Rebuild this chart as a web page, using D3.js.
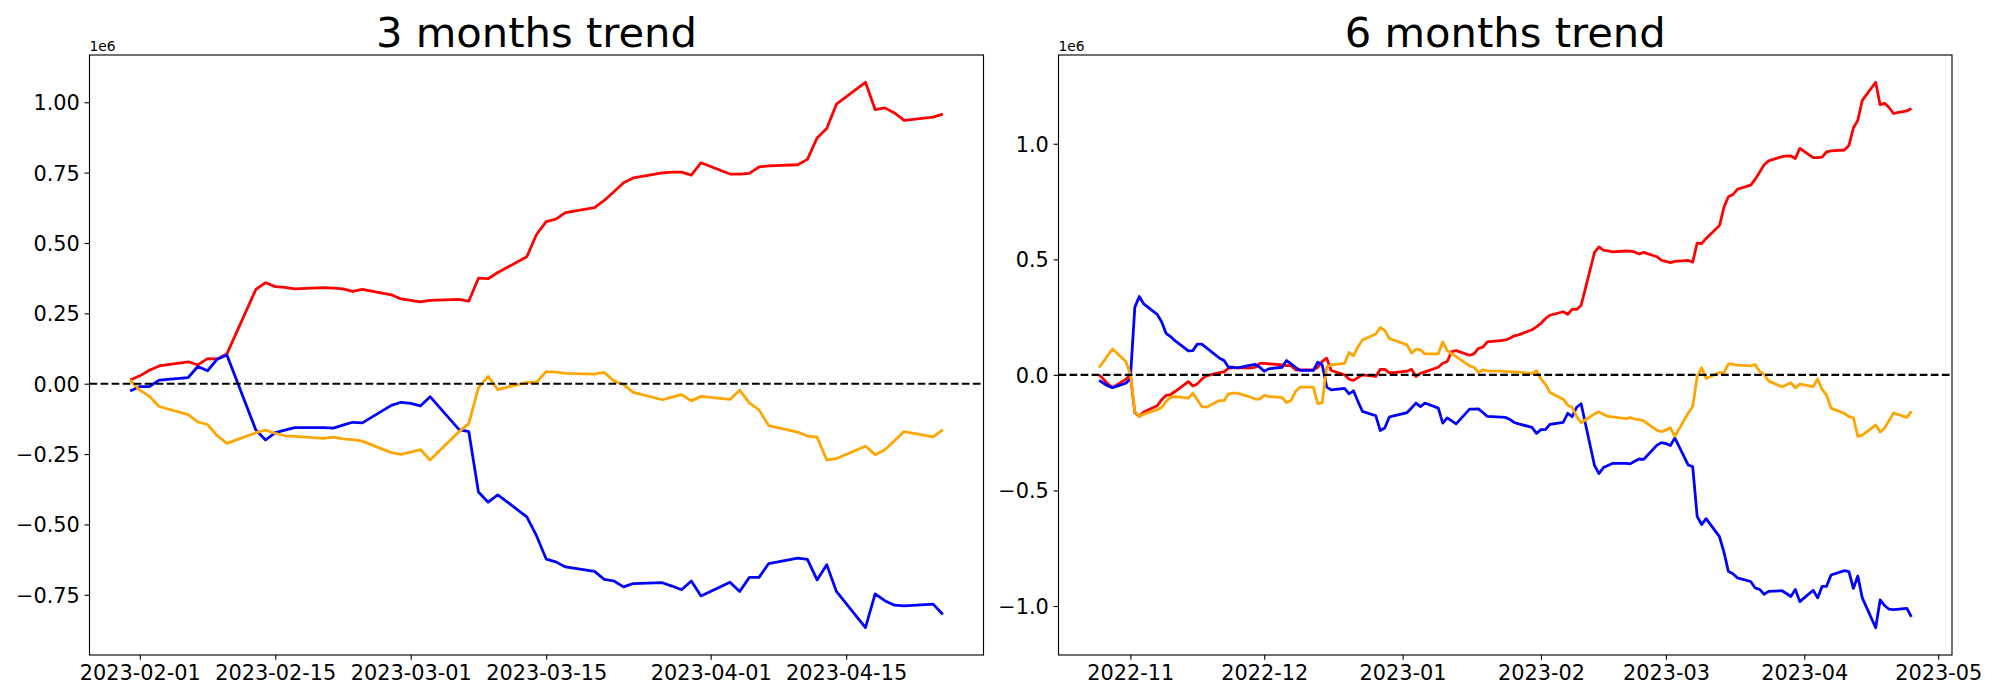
<!DOCTYPE html>
<html>
<head>
<meta charset="utf-8">
<script src="https://cdn.jsdelivr.net/npm/d3@7"></script>
<style>
	body { margin: 0; background: #fff; }
	svg { display: block; font-family: "DejaVu Sans", sans-serif; }
</style>
</head>
<body>
<svg id="chart" width="2000" height="700"></svg>
<script>
// ---- data (values in units of 1e6) ----

// 3 months window
var dates3 = ["2023-01-31","2023-02-01","2023-02-02","2023-02-03","2023-02-06","2023-02-07","2023-02-08","2023-02-09","2023-02-10",
	"2023-02-13","2023-02-14","2023-02-15","2023-02-16","2023-02-17","2023-02-20","2023-02-21","2023-02-22","2023-02-23","2023-02-24",
	"2023-02-27","2023-02-28","2023-03-01","2023-03-02","2023-03-03","2023-03-06","2023-03-07","2023-03-08","2023-03-09","2023-03-10",
	"2023-03-13","2023-03-14","2023-03-15","2023-03-16","2023-03-17","2023-03-20","2023-03-21","2023-03-22","2023-03-23","2023-03-24",
	"2023-03-27","2023-03-28","2023-03-29","2023-03-30","2023-03-31","2023-04-03","2023-04-04","2023-04-05","2023-04-06","2023-04-07",
	"2023-04-10","2023-04-11","2023-04-12","2023-04-13","2023-04-14","2023-04-17","2023-04-18","2023-04-19","2023-04-20","2023-04-21",
	"2023-04-24","2023-04-25"]

var red3 = [0.013,0.028,0.048,0.063,0.078,0.067,0.089,0.088,0.106,0.335,0.359,0.345,0.342,0.337,0.341,0.340,0.337,0.328,0.335,
	0.316,0.301,0.296,0.291,0.296,0.300,0.293,0.375,0.373,0.395,0.451,0.530,0.576,0.585,0.608,0.626,0.651,0.682,0.714,0.731,
	0.749,0.752,0.752,0.741,0.785,0.745,0.745,0.747,0.770,0.774,0.778,0.797,0.873,0.907,0.993,1.071,0.974,0.980,0.962,0.936,
	0.947,0.958]

var blue3 = [-0.026,-0.010,-0.010,0.013,0.022,0.061,0.046,0.087,0.102,-0.165,-0.200,-0.174,-0.165,-0.156,-0.156,-0.158,-0.147,-0.137,-0.139,
	-0.077,-0.066,-0.070,-0.079,-0.046,-0.163,-0.170,-0.385,-0.421,-0.395,-0.473,-0.540,-0.623,-0.633,-0.651,-0.667,-0.695,-0.701,-0.722,-0.710,
	-0.707,-0.719,-0.732,-0.701,-0.754,-0.705,-0.738,-0.688,-0.688,-0.639,-0.620,-0.624,-0.697,-0.643,-0.738,-0.867,-0.747,-0.771,-0.787,-0.789,
	-0.783,-0.820]

var orange3 = [0.013,-0.023,-0.045,-0.081,-0.110,-0.136,-0.145,-0.185,-0.212,-0.174,-0.165,-0.176,-0.185,-0.187,-0.194,-0.190,-0.196,-0.199,-0.204,
	-0.245,-0.251,-0.243,-0.234,-0.271,-0.170,-0.142,-0.014,0.026,-0.021,0.005,0.005,0.043,0.041,0.037,0.034,0.040,0.010,-0.003,-0.031,
	-0.057,-0.048,-0.039,-0.061,-0.045,-0.056,-0.023,-0.068,-0.093,-0.149,-0.172,-0.186,-0.190,-0.271,-0.266,-0.222,-0.252,-0.235,-0.203,-0.170,
	-0.189,-0.163]

// 6 months window: first part up to 2023-01-30, then the same days as the 3 months window
var dates6a = ["2022-10-25","2022-10-26","2022-10-27","2022-10-28","2022-10-31",
	"2022-11-01","2022-11-02","2022-11-03","2022-11-04","2022-11-07","2022-11-08","2022-11-09","2022-11-10","2022-11-11",
	"2022-11-14","2022-11-15","2022-11-16","2022-11-17","2022-11-18","2022-11-21","2022-11-22","2022-11-23","2022-11-24","2022-11-25",
	"2022-11-28","2022-11-29","2022-11-30","2022-12-01","2022-12-02","2022-12-05","2022-12-06","2022-12-07","2022-12-08","2022-12-09",
	"2022-12-12","2022-12-13","2022-12-14","2022-12-15","2022-12-16","2022-12-19","2022-12-20","2022-12-21","2022-12-22","2022-12-23",
	"2022-12-26","2022-12-27","2022-12-28","2022-12-29","2022-12-30","2023-01-02","2023-01-03","2023-01-04","2023-01-05","2023-01-06",
	"2023-01-09","2023-01-10","2023-01-11","2023-01-12","2023-01-13","2023-01-16","2023-01-17","2023-01-18","2023-01-19","2023-01-20",
	"2023-01-23","2023-01-24","2023-01-25","2023-01-26","2023-01-27","2023-01-30"]

var red6a = [0.000,-0.019,-0.040,-0.055,-0.019,
	0.000,-0.163,-0.180,-0.161,-0.134,-0.108,-0.089,-0.085,-0.072,-0.029,-0.048,-0.039,-0.019,-0.004,0.010,0.013,0.029,0.030,0.030,0.030,0.033,0.050,
	0.050,0.048,0.043,0.040,0.040,0.022,0.022,0.022,0.033,0.058,0.072,0.019,0.000,-0.019,-0.024,-0.012,0.000,-0.007,0.024,0.024,0.010,0.010,
	0.016,0.024,-0.007,0.007,0.013,0.033,0.050,0.058,0.101,0.105,0.085,0.091,0.115,0.120,0.143,0.148,0.151,0.158,0.169,0.173,0.195]

var blue6a = [-0.024,-0.036,-0.048,-0.055,-0.036,
	-0.017,0.292,0.339,0.307,0.262,0.230,0.180,0.166,0.148,0.104,0.105,0.133,0.133,0.118,0.072,0.062,0.033,0.033,0.030,0.042,0.045,0.033,
	0.016,0.026,0.033,0.062,0.048,0.033,0.019,0.019,0.055,0.043,-0.053,-0.065,-0.058,-0.082,-0.069,-0.115,-0.158,-0.177,-0.241,-0.230,-0.183,-0.177,
	-0.163,-0.143,-0.122,-0.137,-0.122,-0.144,-0.209,-0.186,-0.199,-0.212,-0.148,-0.148,-0.147,-0.163,-0.180,-0.183,-0.184,-0.192,-0.206,-0.212,-0.227]

var orange6a = [0.032,0.058,0.086,0.112,0.058,
	0.003,-0.158,-0.180,-0.170,-0.151,-0.141,-0.115,-0.097,-0.094,-0.101,-0.079,-0.108,-0.137,-0.140,-0.111,-0.111,-0.082,-0.079,-0.079,-0.097,-0.105,-0.105,
	-0.088,-0.094,-0.097,-0.120,-0.111,-0.072,-0.053,-0.053,-0.125,-0.120,0.035,0.043,0.050,0.097,0.082,0.122,0.151,0.177,0.205,0.192,0.158,0.151,
	0.130,0.094,0.111,0.108,0.091,0.091,0.143,0.105,0.091,0.079,0.039,0.033,0.010,0.022,0.017,0.016,0.014,0.014,0.013,0.012,0.005]

var red6b = [0.208,0.223,0.243,0.258,0.273,0.262,0.284,0.283,0.301,0.530,0.554,0.540,0.537,0.532,0.536,0.535,0.532,0.523,0.530,
	0.511,0.496,0.491,0.486,0.491,0.495,0.488,0.570,0.568,0.590,0.646,0.725,0.771,0.780,0.803,0.821,0.846,0.877,0.909,0.926,
	0.944,0.947,0.947,0.936,0.980,0.940,0.940,0.942,0.965,0.969,0.973,0.992,1.068,1.102,1.188,1.266,1.169,1.175,1.157,1.131,
	1.142,1.153]

var blue6b = [-0.253,-0.237,-0.237,-0.214,-0.205,-0.166,-0.181,-0.140,-0.125,-0.392,-0.427,-0.401,-0.392,-0.383,-0.383,-0.385,-0.374,-0.364,-0.366,
	-0.304,-0.293,-0.297,-0.306,-0.273,-0.390,-0.397,-0.612,-0.648,-0.622,-0.700,-0.767,-0.850,-0.860,-0.878,-0.894,-0.922,-0.928,-0.949,-0.937,
	-0.934,-0.946,-0.959,-0.928,-0.981,-0.932,-0.965,-0.915,-0.915,-0.866,-0.847,-0.851,-0.924,-0.870,-0.965,-1.094,-0.974,-0.998,-1.014,-1.016,
	-1.010,-1.047]

var orange6b = [0.018,-0.018,-0.040,-0.076,-0.105,-0.131,-0.140,-0.180,-0.207,-0.169,-0.160,-0.171,-0.180,-0.182,-0.189,-0.185,-0.191,-0.194,-0.199,
	-0.240,-0.246,-0.238,-0.229,-0.266,-0.165,-0.137,-0.009,0.031,-0.016,0.010,0.010,0.048,0.046,0.042,0.039,0.045,0.015,0.002,-0.026,
	-0.052,-0.043,-0.034,-0.056,-0.040,-0.051,-0.018,-0.063,-0.088,-0.144,-0.167,-0.181,-0.185,-0.266,-0.261,-0.217,-0.247,-0.230,-0.198,-0.165,
	-0.184,-0.158]

var dates6 = dates6a.concat(dates3)

// ticks
var xTicks3 = ["2023-02-01","2023-02-15","2023-03-01","2023-03-15","2023-04-01","2023-04-15"]
var xTicks6 = ["2022-11-01","2022-12-01","2023-01-01","2023-02-01","2023-03-01","2023-04-01","2023-05-01"]
var yTicks3 = [-0.75,-0.5,-0.25,0,0.25,0.5,0.75,1.0]
var yTicks6 = [-1.0,-0.5,0,0.5,1.0]

var colors = ["red","blue","orange"]

var svg = d3.select("#chart")
var parse = d3.utcParse("%Y-%m-%d")

// matplotlib-ish sizes at 100 dpi
var pt = 100 / 72
var lw = 2 * pt
var dashLw = 1.5 * pt
var tickLen = 3.5 * pt
var tickPad = 3.5 * pt

function padded(ext, frac)
{
	var span = ext[1] - ext[0]
	return [ext[0] - span * frac, ext[1] + span * frac]
}

function panel(o)
{
	var g = svg.append("g")
	var dates = o.dates.map(parse)

	var allVals = [].concat.apply([], o.series)
	var x = d3.scaleUtc()
		.domain(padded([+dates[0], +dates[dates.length - 1]], 0.05))
		.range([o.left, o.right])
	var y = d3.scaleLinear()
		.domain(padded(d3.extent(allVals), 0.05))
		.range([o.bottom, o.top])

	// title
	g.append("text")
		.attr("x", (o.left + o.right) / 2)
		.attr("y", o.top - 6 * pt)
		.attr("text-anchor", "middle")
		.attr("font-size", 30 * pt)
		.text(o.title)

	// offset text
	g.append("text")
		.attr("x", o.left)
		.attr("y", o.top - 4)
		.attr("font-size", 10 * pt)
		.text("1e6")

	var clip = g.append("clipPath").attr("id", o.id)
	clip.append("rect")
		.attr("x", o.left).attr("y", o.top)
		.attr("width", o.right - o.left).attr("height", o.bottom - o.top)

	var plot = g.append("g").attr("clip-path", "url(#" + o.id + ")")

	var line = d3.line()
		.x(function(d, i) { return x(dates[i]); })
		.y(function(d) { return y(d); })

	o.series.forEach(function(s, i)
	{
		plot.append("path")
			.datum(s)
			.attr("fill", "none")
			.attr("stroke", colors[i])
			.attr("stroke-width", lw)
			.attr("stroke-linejoin", "round")
			.attr("stroke-linecap", "butt")
			.attr("d", line)
	})

	// zero line
	plot.append("line")
		.attr("x1", o.left).attr("x2", o.right)
		.attr("y1", y(0)).attr("y2", y(0))
		.attr("stroke", "black")
		.attr("stroke-width", dashLw)
		.attr("stroke-dasharray", (3.7 * dashLw) + "," + (1.6 * dashLw))

	// axes
	var xAxis = d3.axisBottom(x)
		.tickValues(o.xTicks.map(parse))
		.tickFormat(d3.utcFormat(o.xFormat))
		.tickSizeInner(tickLen).tickSizeOuter(0).tickPadding(tickPad)
	var yAxis = d3.axisLeft(y)
		.tickValues(o.yTicks)
		.tickFormat(d3.format(o.yFormat))
		.tickSizeInner(tickLen).tickSizeOuter(0).tickPadding(tickPad)

	var gx = g.append("g")
		.attr("transform", "translate(0," + o.bottom + ")")
		.call(xAxis)
	var gy = g.append("g")
		.attr("transform", "translate(" + o.left + ",0)")
		.call(yAxis)

	;[gx, gy].forEach(function(a)
	{
		a.select(".domain").remove()
		a.selectAll(".tick line").attr("stroke", "black").attr("stroke-width", 0.8 * pt)
		a.selectAll(".tick text")
			.attr("fill", "black")
			.attr("font-size", 15 * pt)
			.attr("font-family", "DejaVu Sans")
	})
	gx.selectAll(".tick text").attr("dy", "0.73em")
	gy.selectAll(".tick text").attr("dy", "0.36em")

	// frame
	g.append("rect")
		.attr("x", o.left).attr("y", o.top)
		.attr("width", o.right - o.left).attr("height", o.bottom - o.top)
		.attr("fill", "none")
		.attr("stroke", "black")
		.attr("stroke-width", 0.8 * pt)
}

panel({
	id: "clip3",
	title: "3 months trend",
	left: 89.5, right: 983.5, top: 55, bottom: 655,
	dates: dates3,
	series: [red3, blue3, orange3],
	xTicks: xTicks3, xFormat: "%Y-%m-%d",
	yTicks: yTicks3, yFormat: ".2f"
})

panel({
	id: "clip6",
	title: "6 months trend",
	left: 1058.5, right: 1952, top: 55, bottom: 655,
	dates: dates6,
	series: [red6a.concat(red6b), blue6a.concat(blue6b), orange6a.concat(orange6b)],
	xTicks: xTicks6, xFormat: "%Y-%m",
	yTicks: yTicks6, yFormat: ".1f"
})
</script>
</body>
</html>
